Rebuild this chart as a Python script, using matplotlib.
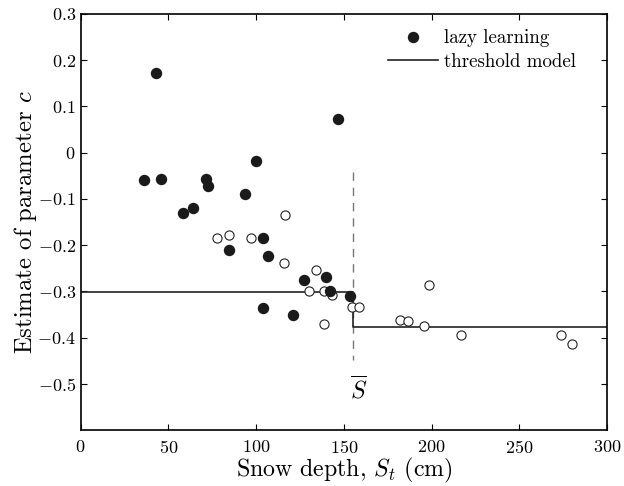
import matplotlib
matplotlib.use("Agg")
import matplotlib.pyplot as plt

plt.rcParams['font.family'] = 'cmr10'
plt.rcParams['mathtext.fontset'] = 'cm'
plt.rcParams['axes.formatter.use_mathtext'] = True

# lazy learning estimates (filled: one subset, open: another)
filled_x = [36.1, 42.8, 45.8, 58.5, 63.9, 71.4, 72.6, 84.6, 93.8, 100.0, 103.7,
            106.5, 127.3, 140.0, 142.3, 153.3, 103.7, 121.0, 146.7]
filled_y = [-0.060, 0.172, -0.057, -0.131, -0.119, -0.056, -0.073, -0.210, -0.090,
            -0.019, -0.184, -0.224, -0.276, -0.269, -0.300, -0.311, -0.337, -0.352, 0.073]
open_x = [77.8, 84.6, 97.2, 116.4, 115.6, 134.1, 130.1, 138.9, 143.3, 154.5, 158.8,
          138.9, 181.9, 186.4, 195.8, 198.6, 216.7, 274.0, 280.2]
open_y = [-0.184, -0.178, -0.184, -0.134, -0.238, -0.253, -0.300, -0.300, -0.307,
          -0.334, -0.334, -0.371, -0.363, -0.364, -0.375, -0.286, -0.395, -0.395, -0.415]

# threshold model
threshold = 155.0
level_low = -0.302
level_high = -0.3775
model_x = [0, threshold, threshold, 300]
model_y = [level_low, level_low, level_high, level_high]

dash_y = [-0.041, -0.449]

xticks = [0, 50, 100, 150, 200, 250, 300]
yticks = [-0.5, -0.4, -0.3, -0.2, -0.1, 0, 0.1, 0.2, 0.3]

fig = plt.figure(figsize=(6.24, 4.86), dpi=100)
ax = fig.add_axes([0.1293, 0.1152, 0.8435, 0.856])

ax.plot([threshold, threshold], dash_y, color='#777777', lw=1.0, ls=(0, (6, 5)))
ax.plot(model_x, model_y, color='#222222', lw=1.2, label='threshold model')
ax.plot(open_x, open_y, 'o', ms=6.6, mfc='white', mec='#222222', mew=0.8, ls='none')
ax.plot(filled_x, filled_y, 'o', ms=7.2, mfc='#1a1a1a', mec='#1a1a1a', ls='none',
        label='lazy learning')

ax.text(158.5, -0.514, r'$\overline{S}$', fontsize=17, ha='center', va='center')

ax.set_xlim(0, 300)
ax.set_ylim(-0.6, 0.3)
ax.set_xticks(xticks)
ax.set_yticks(yticks)
ax.set_yticklabels(['$-0.5$', '$-0.4$', '$-0.3$', '$-0.2$', '$-0.1$', '$0$', '$0.1$', '$0.2$', '$0.3$'])
ax.set_xticklabels(['$%d$' % t for t in xticks])
ax.tick_params(direction='in', top=True, right=True, labelsize=13, length=4, width=0.8)
ax.tick_params(axis='x', pad=6.5)
ax.tick_params(axis='y', pad=3.5)
for s in ax.spines.values():
    s.set_linewidth(1.2)

ax.set_xlabel(r'Snow depth, $S_t$ (cm)', fontsize=17.2, labelpad=0)
ax.set_ylabel(r'Estimate of parameter $c$', fontsize=17.8, labelpad=-1)

h, l = ax.get_legend_handles_labels()
ax.legend(h[::-1], l[::-1], loc='upper right', frameon=False, fontsize=13.6,
          handlelength=2.65, handletextpad=0.32, labelspacing=0.3,
          bbox_to_anchor=(0.963, 0.99), borderaxespad=0.2)

fig.savefig('out.png', dpi=100)
